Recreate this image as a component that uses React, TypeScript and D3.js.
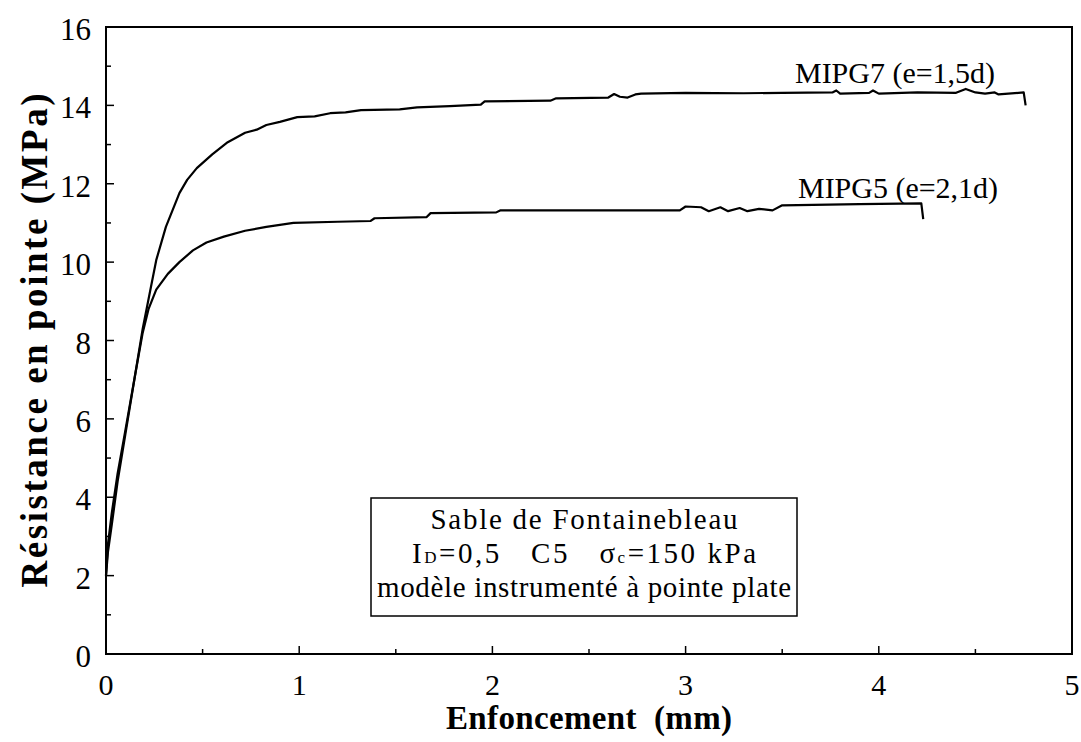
import * as d3 from 'd3';

// Enfoncement (mm) / résistance en pointe (MPa)
const mipg7X = [0, 0.01, 0.03, 0.06, 0.1, 0.15, 0.19, 0.23, 0.26, 0.31, 0.38, 0.42, 0.47, 0.55, 0.63, 0.72, 0.78, 0.83, 0.9, 0.99, 1.08, 1.16, 1.24, 1.32, 1.52, 1.61, 1.78, 1.94, 1.96, 2.3, 2.33, 2.6, 2.63, 2.66, 2.7, 2.74, 2.77, 3.0, 3.3, 3.5, 3.76, 3.78, 3.8, 3.95, 3.97, 4.0, 4.2, 4.4, 4.45, 4.5, 4.55, 4.6, 4.62, 4.75, 4.76];
const mipg7Y = [2.0, 2.6, 3.3, 4.4, 5.6, 7.1, 8.3, 9.3, 10.05, 10.9, 11.76, 12.1, 12.4, 12.75, 13.06, 13.3, 13.38, 13.5, 13.58, 13.7, 13.72, 13.8, 13.82, 13.88, 13.9, 13.95, 13.98, 14.02, 14.1, 14.12, 14.18, 14.2, 14.29, 14.22, 14.2, 14.28, 14.3, 14.32, 14.31, 14.32, 14.33, 14.38, 14.3, 14.32, 14.38, 14.3, 14.33, 14.32, 14.42, 14.33, 14.3, 14.33, 14.28, 14.33, 14.0];

const mipg5X = [0, 0.01, 0.03, 0.06, 0.1, 0.15, 0.19, 0.22, 0.26, 0.32, 0.38, 0.45, 0.52, 0.61, 0.72, 0.83, 0.97, 1.2, 1.37, 1.39, 1.66, 1.68, 2.02, 2.04, 2.97, 3.0, 3.08, 3.12, 3.18, 3.22, 3.28, 3.32, 3.38, 3.45, 3.5, 3.9, 4.22, 4.23];
const mipg5Y = [2.0, 2.8, 3.6, 4.6, 5.7, 7.1, 8.2, 8.8, 9.3, 9.7, 10.0, 10.3, 10.5, 10.65, 10.8, 10.9, 11.0, 11.03, 11.05, 11.12, 11.15, 11.25, 11.27, 11.32, 11.32, 11.42, 11.4, 11.3, 11.4, 11.3, 11.38, 11.3, 11.36, 11.32, 11.45, 11.48, 11.5, 11.1];

const xTicks = [0, 1, 2, 3, 4, 5];
const xMinorTicks = [0.5, 1.5, 2.5, 3.5, 4.5];
const yTicks = [0, 2, 4, 6, 8, 10, 12, 14, 16];
const yMinorTicks = [1, 3, 5, 7, 9, 11, 13, 15];

const seriesLabels = ['MIPG7 (e=1,5d)', 'MIPG5 (e=2,1d)'];

const W = 1081;
const H = 742;
const serif = '"Liberation Serif", "Times New Roman", serif';

export default function App() {
  const x = d3.scaleLinear().domain([0, 5]).range([106, 1072]);
  const y = d3.scaleLinear().domain([0, 16]).range([654, 27]);

  const line = d3
    .line<[number, number]>()
    .x((d) => x(d[0]))
    .y((d) => y(d[1]));

  const s7 = mipg7X.map((v, i) => [v, mipg7Y[i]] as [number, number]);
  const s5 = mipg5X.map((v, i) => [v, mipg5Y[i]] as [number, number]);

  const [x0, x1] = x.range();
  const [y0, y1] = y.range();
  const boxCx = 584;

  return (
    <svg
      width={W}
      height={H}
      style={{ position: 'absolute', left: 0, top: 0, background: '#fff' }}
      fontFamily={serif}
    >
      <rect x={0} y={0} width={W} height={H} fill="#fff" />

      {/* frame */}
      <rect x={x0} y={y1} width={x1 - x0} height={y0 - y1} fill="none" stroke="#000" strokeWidth={2} />

      {/* y ticks */}
      {yTicks.map((t) => (
        <line key={'ym' + t} x1={x0} x2={x0 + 8} y1={y(t)} y2={y(t)} stroke="#000" strokeWidth={1.5} />
      ))}
      {yMinorTicks.map((t) => (
        <line key={'yn' + t} x1={x0} x2={x0 + 5} y1={y(t)} y2={y(t)} stroke="#000" strokeWidth={1.5} />
      ))}
      {yTicks.map((t) => (
        <text key={'yl' + t} x={91} y={y(t) + 13} textAnchor="end" fontSize={31} fill="#000">
          {t}
        </text>
      ))}

      {/* x ticks */}
      {xTicks.map((t) => (
        <line key={'xm' + t} x1={x(t)} x2={x(t)} y1={y0} y2={y0 - 8} stroke="#000" strokeWidth={1.5} />
      ))}
      {xMinorTicks.map((t) => (
        <line key={'xn' + t} x1={x(t)} x2={x(t)} y1={y0} y2={y0 - 5} stroke="#000" strokeWidth={1.5} />
      ))}
      {xTicks.map((t) => (
        <text key={'xl' + t} x={x(t)} y={695} textAnchor="middle" fontSize={30} fill="#000">
          {t}
        </text>
      ))}

      {/* axis titles */}
      <text
        x={(x0 + x1) / 2}
        y={729}
        textAnchor="middle"
        fontSize={33}
        fontWeight="bold"
        fill="#000"
        textLength={286}
        lengthAdjust="spacing"
      >
        Enfoncement{'\u00a0\u00a0'}(mm)
      </text>
      <text
        transform={`translate(47,${(y0 + y1) / 2}) rotate(-90)`}
        textAnchor="middle"
        fontSize={37}
        fontWeight="bold"
        fill="#000"
        textLength={494}
        lengthAdjust="spacing"
      >
        Résistance en pointe (MPa)
      </text>

      {/* curves */}
      <path d={line(s7) || ''} fill="none" stroke="#000" strokeWidth={2.2} strokeLinejoin="round" />
      <path d={line(s5) || ''} fill="none" stroke="#000" strokeWidth={2.2} strokeLinejoin="round" />

      <text x={795} y={83} fontSize={29} fill="#000" textLength={200} lengthAdjust="spacingAndGlyphs">
        {seriesLabels[0]}
      </text>
      <text x={798} y={198} fontSize={29} fill="#000" textLength={200} lengthAdjust="spacingAndGlyphs">
        {seriesLabels[1]}
      </text>

      {/* annotation box */}
      <rect x={371} y={498} width={426} height={118} fill="#fff" stroke="#000" strokeWidth={1.5} />
      <text x={boxCx} y={529} textAnchor="middle" fontSize={29} fill="#000" textLength={307} lengthAdjust="spacing">
        Sable de Fontainebleau
      </text>
      <text x={boxCx} y={563} textAnchor="middle" fontSize={29} fill="#000" textLength={344} lengthAdjust="spacing">
        I<tspan fontSize={17}>D</tspan>=0,5{'\u00a0\u00a0\u00a0'}C5{'\u00a0\u00a0\u00a0'}σ<tspan fontSize={17}>c</tspan>=150 kPa
      </text>
      <text x={boxCx} y={597} textAnchor="middle" fontSize={29} fill="#000" textLength={414} lengthAdjust="spacing">
        modèle instrumenté à pointe plate
      </text>
    </svg>
  );
}
